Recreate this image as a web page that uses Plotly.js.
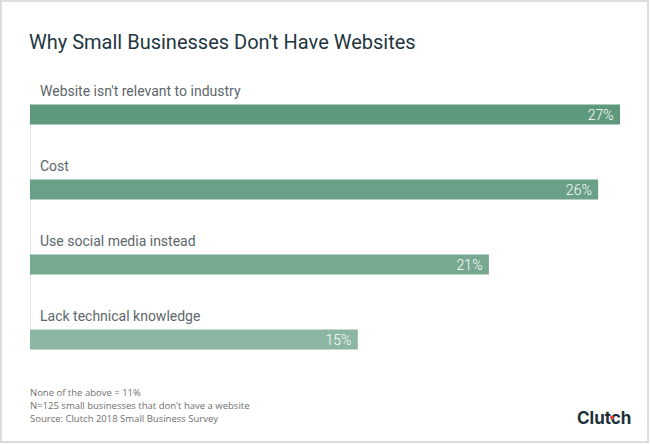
<!DOCTYPE html>
<html>
<head>
<meta charset="utf-8">
<script src="https://cdn.plot.ly/plotly-3.0.1.min.js"></script>
<style>
  html, body { margin: 0; padding: 0; background: #ffffff; }
  #wrap { position: relative; width: 650px; height: 444px; }
  #chart { position: absolute; left: 0; top: 0; width: 650px; height: 444px; }
  #frame { position: absolute; left: 0px; top: 0px; width: 645px; height: 439px;
           border: 2px solid #dcdcdc; pointer-events: none; }
</style>
</head>
<body>
<div id="wrap">
  <div id="chart"></div>
  <div id="frame"></div>
</div>
<script>
// ---- data ----
const categories = [
  "Website isn't relevant to industry",
  "Cost",
  "Use social media instead",
  "Lack technical knowledge"
];
const values = [27, 26, 21, 15];
const barColors = ["#5f997d", "#69a087", "#77a991", "#8bb6a2"];
const titleText = "Why Small Businesses Don't Have Websites";
const footnotes = [
  "None of the above = 11%",
  "N=125 small businesses that don't have a website",
  "Source: Clutch 2018 Small Business Survey"
];
const brand = "Clutch";

// ---- geometry helpers (layout only) ----
const W = 650, H = 444;
const mL = 30, mR = 30, mT = 77, mB = 67;
const plotW = W - mL - mR, plotH = H - mT - mB;
const px2paperX = px => (px - mL) / plotW;
const px2paperY = py => (H - mB - py) / plotH;
const barWidth = 20 / 75;

const trace = {
  type: 'bar',
  orientation: 'h',
  y: categories,
  x: values,
  width: barWidth,
  marker: { color: barColors, line: { width: 0 } },
  text: values.map(v => v + '%\u00a0'),
  textposition: 'inside',
  insidetextanchor: 'end',
  constraintext: 'none',
  textfont: { family: 'Roboto', size: 14, color: '#ffffff', weight: 300 },
  hoverinfo: 'none',
  cliponaxis: false
};

const annotations = [];
categories.forEach(c => {
  annotations.push({
    text: c, x: 0, xref: 'x', y: c, yref: 'y',
    xanchor: 'left', yanchor: 'middle', xshift: 8, yshift: 24,
    showarrow: false,
    font: { family: 'Roboto', size: 14, color: '#5d676c' }
  });
});
const footY = [393, 405.5, 418];
footnotes.forEach((t, i) => {
  annotations.push({
    text: t, x: px2paperX(30), xref: 'paper', y: px2paperY(footY[i]), yref: 'paper',
    xanchor: 'left', yanchor: 'middle', xshift: -2, showarrow: false,
    font: { family: 'Open Sans', size: 9.5, color: '#6f6f6f' }
  });
});

const shapes = [
  {
    type: 'line', xref: 'x', yref: 'y',
    x0: 0, x1: 0, y0: -barWidth / 2, y1: 3 + barWidth / 2,
    line: { color: '#e3e3e3', width: 2 }, layer: 'below'
  },
  {
    type: 'rect', xref: 'paper', yref: 'paper',
    x0: px2paperX(571), x1: px2paperX(639),
    y0: px2paperY(427), y1: px2paperY(406),
    fillcolor: 'rgba(0,0,0,0)', line: { width: 0 }, layer: 'above',
    label: {
      text: brand, textposition: 'middle left', padding: 3,
      font: { family: 'Inter', size: 17, color: '#1b2f38', weight: 'bold' }
    }
  },
  {
    type: 'circle', xref: 'paper', yref: 'paper',
    xsizemode: 'pixel', ysizemode: 'pixel',
    xanchor: px2paperX(612), yanchor: px2paperY(417.5),
    x0: -2, x1: 2, y0: -2, y1: 2,
    fillcolor: '#ef4335', line: { width: 0 }, layer: 'above'
  }
];

const layout = {
  width: W, height: H,
  margin: { l: mL, r: mR, t: mT, b: mB, pad: 0 },
  paper_bgcolor: '#ffffff', plot_bgcolor: '#ffffff',
  showlegend: false,
  title: {
    text: titleText, xref: 'container', yref: 'container',
    x: 29 / W, xanchor: 'left', y: 1 - 42 / H, yanchor: 'middle',
    font: { family: 'Roboto', size: 20, color: '#1f3641' }
  },
  xaxis: { range: [0, 27], visible: false, fixedrange: true },
  yaxis: {
    type: 'category', categoryarray: categories, range: [3.5, -0.5],
    showticklabels: false, showgrid: false, zeroline: false, showline: false,
    ticks: '', fixedrange: true
  },
  annotations: annotations,
  shapes: shapes
};

Plotly.newPlot('chart', [trace], layout, { displayModeBar: false, staticPlot: true });
</script>
</body>
</html>
